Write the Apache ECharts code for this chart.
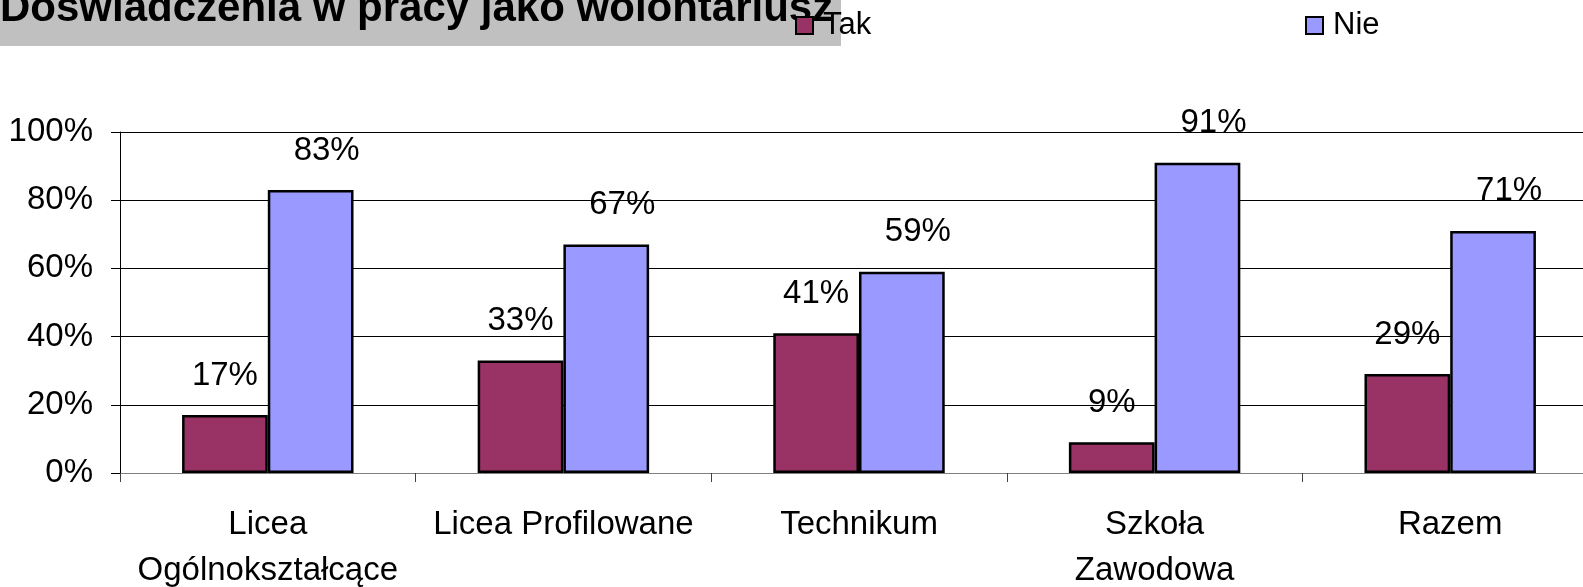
<!DOCTYPE html>
<html>
<head>
<meta charset="utf-8">
<script src="https://cdn.jsdelivr.net/npm/echarts@6/dist/echarts.min.js"></script>
<style>
html,body{margin:0;padding:0;background:#fff;overflow:hidden;}
#chart{width:1583px;height:587px;}
</style>
</head>
<body>
<div id="chart"></div>
<script>
const titleText = 'Doświadczenia w pracy jako wolontariusz';
const categories = ['Licea\nOgólnokształcące', 'Licea Profilowane', 'Technikum', 'Szkoła\nZawodowa', 'Razem'];
const seriesNames = ['Tak', 'Nie'];
const takValues = [17, 33, 41, 9, 29];
const nieValues = [83, 67, 59, 91, 71];
const yTicks = [0, 20, 40, 60, 80, 100];

const FONT = '"Liberation Sans", Arial, sans-serif';
const chart = echarts.init(document.getElementById('chart'), null, {renderer: 'canvas'});

const labelBase = {
  show: true,
  position: 'top',
  distance: 23,
  color: '#000',
  fontFamily: FONT,
  fontSize: 33,
  formatter: p => p.value + '%'
};

const legendText = {fontFamily: FONT, fontSize: 31, color: '#000', padding: [0, 0, 0, 5]};

chart.setOption({
  animation: false,
  backgroundColor: '#fff',
  graphic: [
    {type: 'rect', left: 0, top: 0, shape: {x: 0, y: 0, width: 841, height: 46}, style: {fill: '#C0C0C0'}, z: 1},
    {type: 'text', x: 0, y: 9, style: {text: titleText, fill: '#000', font: 'bold 42px ' + FONT, verticalAlign: 'middle', align: 'left'}, z: 2}
  ],
  legend: [
    {data: [seriesNames[0]], left: 795, top: 10, padding: 0, itemWidth: 17, itemHeight: 17, icon: 'rect', textStyle: legendText},
    {data: [seriesNames[1]], left: 1305, top: 10, padding: 0, itemWidth: 17, itemHeight: 17, icon: 'rect', textStyle: legendText}
  ],
  grid: {left: 120, top: 132, width: 1478, height: 341, containLabel: false, outerBoundsMode: 'none'},
  xAxis: {
    type: 'category',
    data: categories,
    axisLine: {lineStyle: {color: '#808080', width: 1}},
    axisTick: {show: true, length: 9, lineStyle: {color: '#404040'}},
    axisLabel: {interval: 0, margin: 29, color: '#000', fontFamily: FONT, fontSize: 33, lineHeight: 46}
  },
  yAxis: {
    type: 'value',
    min: yTicks[0],
    max: yTicks[yTicks.length - 1],
    interval: 20,
    axisLine: {show: true, lineStyle: {color: '#000', width: 1}},
    axisTick: {show: true, length: 9, lineStyle: {color: '#000'}},
    splitLine: {show: true, lineStyle: {color: '#000', width: 1}},
    axisLabel: {margin: 27, color: '#000', fontFamily: FONT, fontSize: 33, formatter: '{value}%'}
  },
  series: [
    {
      name: seriesNames[0], type: 'bar', data: takValues,
      barGap: '0%', barCategoryGap: '42%',
      itemStyle: {color: '#993366', borderColor: '#000', borderWidth: 2.5},
      label: Object.assign({}, labelBase)
    },
    {
      name: seriesNames[1], type: 'bar', data: nieValues,
      barGap: '0%', barCategoryGap: '42%',
      itemStyle: {color: '#9999FF', borderColor: '#000', borderWidth: 2.5},
      label: Object.assign({}, labelBase, {offset: [16, 0]})
    }
  ]
});
</script>
</body>
</html>
